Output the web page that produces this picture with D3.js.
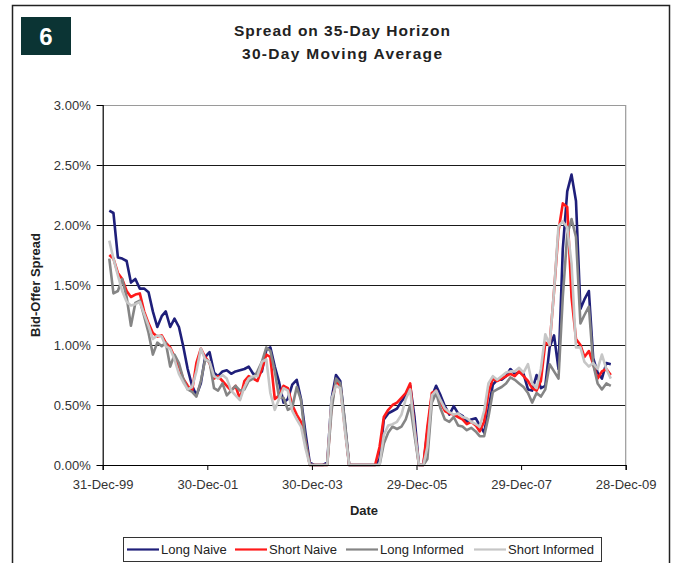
<!DOCTYPE html>
<html>
<head>
<meta charset="utf-8">
<script src="https://cdn.jsdelivr.net/npm/d3@7"></script>
<style>
  html, body { margin: 0; padding: 0; background: #fff; }
  svg { display: block; }
  text { font-family: "Liberation Sans", Arial, sans-serif; }
</style>
</head>
<body>
<svg id="chart" width="675" height="563"></svg>
<script>
// ---------------- data ----------------
const titleLines = ["Spread on 35-Day Horizon", "30-Day Moving Average"];
const badgeLabel = "6";
const yLabel = "Bid-Offer Spread";
const xLabel = "Date";
const seriesNames = ["Long Naive", "Short Naive", "Long Informed", "Short Informed"];
const seriesColors = ["#1f1f7a", "#ff1a1a", "#858585", "#c6c6c6"];
const xTickDates = ["1999-12-31", "2001-12-30", "2003-12-30", "2005-12-29", "2007-12-29", "2009-12-28"];
const yTickValues = [0, 0.5, 1.0, 1.5, 2.0, 2.5, 3.0];

const dates = [
  "2000-02-15","2000-03-15","2000-04-15","2000-05-15","2000-06-15","2000-07-15","2000-08-15","2000-09-15","2000-10-15","2000-11-15","2000-12-15",
  "2001-01-15","2001-02-15","2001-03-15","2001-04-15","2001-05-15","2001-06-15","2001-07-15","2001-08-15","2001-09-15","2001-10-15","2001-11-15","2001-12-15",
  "2002-01-15","2002-02-15","2002-03-15","2002-04-15","2002-05-15","2002-06-15","2002-07-15","2002-08-15","2002-09-15","2002-10-15","2002-11-15","2002-12-15",
  "2003-01-15","2003-02-15","2003-03-15","2003-04-15","2003-05-15","2003-06-15","2003-07-15","2003-08-15","2003-09-15","2003-10-15","2003-11-15","2003-12-15",
  "2004-01-15","2004-02-15","2004-03-15","2004-04-15","2004-05-15","2004-06-15","2004-07-15","2004-08-15","2004-09-15","2004-10-15","2004-11-15","2004-12-15",
  "2005-01-15","2005-02-15","2005-03-15","2005-04-15","2005-05-15","2005-06-15","2005-07-15","2005-08-15","2005-09-15","2005-10-15","2005-11-15","2005-12-15",
  "2006-01-15","2006-02-15","2006-03-15","2006-04-15","2006-05-15","2006-06-15","2006-07-15","2006-08-15","2006-09-15","2006-10-15","2006-11-15","2006-12-15",
  "2007-01-15","2007-02-15","2007-03-15","2007-04-15","2007-05-15","2007-06-15","2007-07-15","2007-08-15","2007-09-15","2007-10-15","2007-11-15","2007-12-15",
  "2008-01-15","2008-02-15","2008-03-15","2008-04-15","2008-05-15","2008-06-15","2008-07-15","2008-08-15","2008-09-15","2008-10-15","2008-11-15","2008-12-15",
  "2009-01-15","2009-02-15","2009-03-15","2009-04-15","2009-05-15","2009-06-15","2009-07-15","2009-08-15","2009-09-15"
];

// values in percent
const longNaive = [
  2.12, 2.10, 1.73, 1.72, 1.70, 1.52, 1.55, 1.47, 1.47, 1.44, 1.28, 1.15,
  1.24, 1.28, 1.15, 1.22, 1.15, 0.99, 0.80, 0.66, 0.58, 0.68, 0.90, 0.94,
  0.77, 0.74, 0.78, 0.79, 0.76, 0.78, 0.79, 0.80, 0.82, 0.76, 0.75, 0.78,
  0.96, 0.98, 0.82, 0.69, 0.52, 0.55, 0.67, 0.71, 0.55, 0.27, 0.02, 0,
  0, 0, 0.02, 0.55, 0.75, 0.70, 0.36, 0, 0, 0, 0, 0,
  0, 0, 0.05, 0.38, 0.43, 0.45, 0.47, 0.53, 0.58, 0.66, 0.40, 0,
  0, 0.28, 0.57, 0.66, 0.58, 0.49, 0.42, 0.49, 0.43, 0.41, 0.36, 0.38,
  0.39, 0.33, 0.27, 0.46, 0.67, 0.71, 0.71, 0.74, 0.80, 0.76, 0.77, 0.76,
  0.63, 0.62, 0.75, 0.64, 0.66, 0.98, 1.08, 0.80, 1.80, 2.28, 2.42, 2.20,
  1.30, 1.38, 1.45, 0.89, 0.77, 0.72, 0.85, 0.84
];
const shortNaive = [
  1.75, 1.72, 1.60, 1.55, 1.45, 1.40, 1.42, 1.43, 1.28, 1.18, 1.10, 1.07,
  1.08, 1.02, 0.98, 0.90, 0.82, 0.72, 0.66, 0.62, 0.85, 0.97, 0.90, 0.85,
  0.72, 0.74, 0.70, 0.66, 0.62, 0.66, 0.55, 0.70, 0.74, 0.72, 0.70, 0.80,
  0.92, 0.90, 0.55, 0.58, 0.66, 0.64, 0.50, 0.42, 0.36, 0.20, 0, 0,
  0, 0, 0, 0.50, 0.70, 0.66, 0.32, 0, 0, 0, 0, 0,
  0, 0, 0.15, 0.40, 0.46, 0.50, 0.52, 0.56, 0.60, 0.68, 0.30, 0,
  0, 0.32, 0.60, 0.62, 0.52, 0.45, 0.43, 0.42, 0.40, 0.38, 0.34, 0.36,
  0.33, 0.28, 0.36, 0.60, 0.72, 0.70, 0.72, 0.74, 0.76, 0.74, 0.78, 0.74,
  0.70, 0.64, 0.62, 0.70, 1.02, 1.00, 1.45, 1.95, 2.18, 2.15, 1.40, 1.05,
  1.00, 0.90, 0.95, 0.84, 0.72, 0.78, 0.80, 0.75
];
const longInformed = [
  1.72, 1.43, 1.45, 1.55, 1.40, 1.16, 1.35, 1.37, 1.24, 1.10, 0.92, 1.02,
  0.99, 1.02, 0.82, 0.92, 0.85, 0.72, 0.63, 0.61, 0.57, 0.70, 0.88, 0.86,
  0.64, 0.62, 0.68, 0.58, 0.62, 0.66, 0.62, 0.63, 0.70, 0.72, 0.78, 0.86,
  0.98, 0.95, 0.78, 0.56, 0.56, 0.46, 0.48, 0.65, 0.54, 0.20, 0, 0,
  0, 0, 0, 0.45, 0.72, 0.68, 0.38, 0, 0, 0, 0, 0,
  0, 0, 0, 0.18, 0.27, 0.32, 0.30, 0.32, 0.38, 0.50, 0.25, 0,
  0, 0.05, 0.52, 0.60, 0.47, 0.38, 0.36, 0.40, 0.33, 0.32, 0.29, 0.31,
  0.28, 0.24, 0.24, 0.40, 0.61, 0.63, 0.65, 0.68, 0.73, 0.71, 0.68, 0.65,
  0.60, 0.52, 0.60, 0.57, 0.63, 0.84, 0.78, 0.72, 1.40, 1.92, 2.05, 1.90,
  1.18, 1.25, 1.32, 0.84, 0.68, 0.63, 0.68, 0.66
];
const shortInformed = [
  1.87, 1.72, 1.58, 1.45, 1.36, 1.33, 1.34, 1.36, 1.26, 1.16, 1.05, 1.08,
  1.07, 0.99, 0.97, 0.88, 0.76, 0.69, 0.63, 0.65, 0.78, 0.97, 0.88, 0.86,
  0.74, 0.72, 0.75, 0.72, 0.62, 0.58, 0.54, 0.65, 0.72, 0.74, 0.74, 0.86,
  0.88, 0.60, 0.46, 0.55, 0.64, 0.62, 0.45, 0.38, 0.32, 0.14, 0, 0,
  0, 0, 0, 0.55, 0.66, 0.64, 0.30, 0, 0, 0, 0, 0,
  0, 0, 0, 0.25, 0.33, 0.34, 0.36, 0.42, 0.55, 0.63, 0.30, 0,
  0, 0.15, 0.58, 0.62, 0.54, 0.47, 0.44, 0.42, 0.43, 0.40, 0.39, 0.36,
  0.34, 0.32, 0.45, 0.68, 0.74, 0.71, 0.74, 0.77, 0.78, 0.78, 0.81, 0.77,
  0.84, 0.68, 0.64, 0.80, 1.09, 1.00, 1.45, 1.99, 2.03, 1.98, 1.68, 0.98,
  0.98, 0.86, 0.82, 0.85, 0.80, 0.92, 0.80, 0.72
];

// ---------------- drawing ----------------
const parse = d3.utcParse("%Y-%m-%d");
const svg = d3.select("#chart");
const font = '"Liberation Sans", Arial, sans-serif';

svg.append("rect").attr("width", 675).attr("height", 563).attr("fill", "#fff");
// outer frame
svg.append("rect").attr("x", 12.5).attr("y", 5.5).attr("width", 657).attr("height", 620)
  .attr("fill", "none").attr("stroke", "#222").attr("stroke-width", 1.5);

// badge
svg.append("rect").attr("x", 21).attr("y", 17).attr("width", 50).attr("height", 38).attr("fill", "#0b3434");
svg.append("text").attr("x", 46).attr("y", 44.5).attr("text-anchor", "middle")
  .attr("fill", "#fff").attr("font-size", 24).attr("font-weight", "bold").text(badgeLabel);

// title
const titleWidths = [216, 200];
svg.selectAll("text.title").data(titleLines).join("text").attr("class", "title")
  .attr("x", 342).attr("y", (d, i) => 36 + i * 23).attr("text-anchor", "middle")
  .attr("font-size", 15.5).attr("font-weight", "bold").attr("fill", "#222")
  .attr("textLength", (d, i) => titleWidths[i]).attr("lengthAdjust", "spacing")
  .text(d => d);

const x = d3.scaleUtc().domain([parse(xTickDates[0]), parse(xTickDates[xTickDates.length - 1])]).range([102.7, 625.7]);
const y = d3.scaleLinear().domain([0, 3]).range([465, 105]);

// gridlines
svg.append("g").selectAll("line").data(yTickValues.filter(v => v > 0 && v < 3)).join("line")
  .attr("x1", x.range()[0]).attr("x2", x.range()[1])
  .attr("y1", d => Math.round(y(d)) + 0.5).attr("y2", d => Math.round(y(d)) + 0.5)
  .attr("stroke", "#1a1a1a").attr("stroke-width", 1);

// plot area border (top, right)
svg.append("path")
  .attr("d", `M${x.range()[0]},${y(3) + 0.5}H${x.range()[1]}V${y(0)}`)
  .attr("fill", "none").attr("stroke", "#9a9a9a").attr("stroke-width", 1.2);

// series
const line = d3.line().x((d, i) => x(parse(dates[i]))).y(d => y(d));
const allSeries = [longNaive, shortNaive, longInformed, shortInformed];
svg.append("g").selectAll("path").data(allSeries).join("path")
  .attr("d", d => line(d))
  .attr("fill", "none")
  .attr("stroke", (d, i) => seriesColors[i])
  .attr("stroke-width", 2.6)
  .attr("stroke-linejoin", "round");

// axes
const yAxis = d3.axisLeft(y).tickValues(yTickValues).tickSize(6).tickPadding(6)
  .tickFormat(d => d.toFixed(2) + "%");
const gy = svg.append("g").attr("transform", `translate(${x.range()[0]},0)`).call(yAxis);
gy.select(".domain").attr("stroke", "#000").attr("stroke-width", 1.2);
gy.selectAll(".tick line").attr("stroke", "#000");
gy.selectAll(".tick text").attr("font-family", font).attr("font-size", 13).attr("fill", "#333");

const xAxis = d3.axisBottom(x).tickValues(xTickDates.map(parse)).tickSize(5).tickPadding(10)
  .tickFormat(d3.utcFormat("%d-%b-%y"));
const gx = svg.append("g").attr("transform", `translate(0,${y(0)})`).call(xAxis);
gx.select(".domain").attr("stroke", "#000").attr("stroke-width", 1.2);
gx.selectAll(".tick line").attr("stroke", "#000");
gx.selectAll(".tick text").attr("font-family", font).attr("font-size", 13).attr("fill", "#333");

// axis titles
svg.append("text").attr("x", 364).attr("y", 515).attr("text-anchor", "middle")
  .attr("font-size", 13).attr("font-weight", "bold").attr("fill", "#222").text(xLabel);
svg.append("text").attr("transform", "translate(40,285) rotate(-90)").attr("text-anchor", "middle")
  .attr("font-size", 13).attr("font-weight", "bold").attr("fill", "#222").text(yLabel);

// legend
const legendX = [127, 235, 346, 474];
svg.append("rect").attr("x", 123.5).attr("y", 537.5).attr("width", 478).attr("height", 24)
  .attr("fill", "#fff").attr("stroke", "#333").attr("stroke-width", 1);
const lg = svg.append("g").selectAll("g").data(seriesNames).join("g")
  .attr("transform", (d, i) => `translate(${legendX[i]},549.5)`);
lg.append("line").attr("x1", 0).attr("x2", 32).attr("stroke", (d, i) => seriesColors[i]).attr("stroke-width", 2.2);
lg.append("text").attr("x", 34).attr("y", 4.5).attr("font-size", 13).attr("fill", "#222").text(d => d);
</script>
</body>
</html>
